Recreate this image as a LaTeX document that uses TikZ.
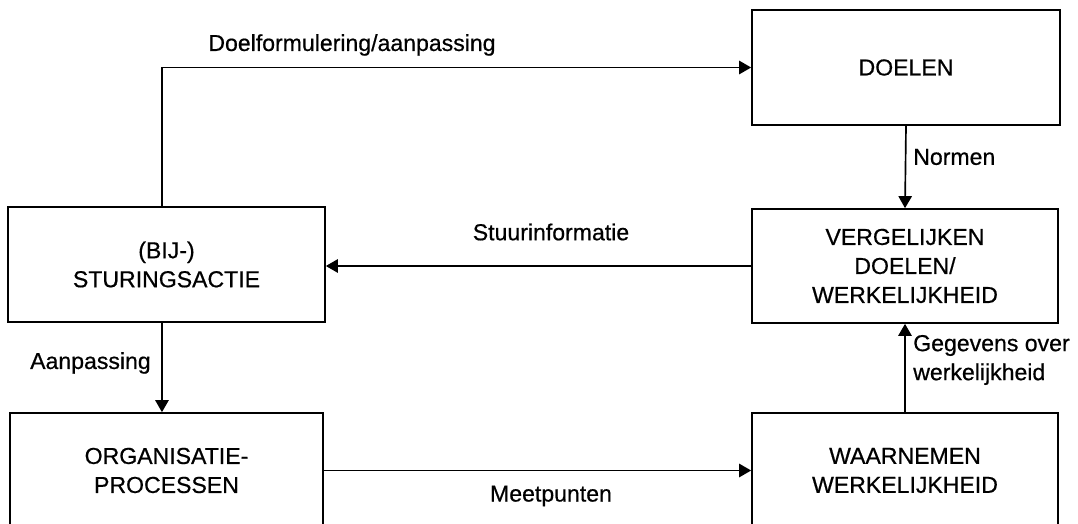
\documentclass[tikz,border=0pt]{standalone}
\usepackage{fontspec}
\setmainfont{Liberation Sans}[FakeBold=0.6]
\usetikzlibrary{arrows.meta}
\begin{document}
\begin{tikzpicture}[x=0.75pt,y=-0.75pt,
  every node/.style={font=\fontsize{17.3}{21.75}\selectfont, text=black},
  box/.style={draw=black, line width=1.25pt, rectangle, align=center, inner sep=0pt},
  arr/.style={draw=black, line width=1.25pt, -{Triangle[length=9pt,width=10pt]}},
  lbl/.style={inner sep=0pt, align=left}]
\useasboundingbox (0,0) rectangle (1078,524);
% boxes
\node[box, minimum width=231pt, minimum height=86.25pt] (doelen) at (906,67.5) {DOELEN};
\node[box, minimum width=229.5pt, minimum height=85.5pt] (verg) at (905,266) {VERGELIJKEN\\DOELEN/\\WERKELIJKHEID};
\node[box, minimum width=229.5pt, minimum height=86.25pt] (waar) at (905,470.5) {WAARNEMEN\\WERKELIJKHEID};
\node[box, minimum width=237.75pt, minimum height=86.25pt] (stur) at (166.5,264.5) {(BIJ-)\\STURINGSACTIE};
\node[box, minimum width=234.75pt, minimum height=86.25pt] (org) at (166.5,470.5) {ORGANISATIE-\\PROCESSEN};
% connectors
\coordinate (sturtop) at ([xshift=-3.4pt]stur.north);
\draw[arr] (sturtop) |- (doelen.west);
\draw[arr] (doelen.south) -- (verg.north);
\draw[arr] (verg.west) -- (verg.west -| stur.east);
\coordinate (sturbot) at ([xshift=-3.4pt]stur.south);
\draw[arr] (sturbot) -- (sturbot |- org.north);
\draw[arr] (org.east) -- (org.east -| waar.west);
\draw[arr] (waar.north) -- (waar.north |- verg.south);
% labels
\node[lbl] (l1) at (352,45) {Doelformulering/aanpassing};
\node[lbl, anchor=west] (l2) at (913,157) {Normen};
\node[lbl] (l3) at (551,232) {Stuurinformatie};
\node[lbl, anchor=east] (l4) at (151,363) {Aanpassing};
\node[lbl] (l5) at (551,496) {Meetpunten};
\node[lbl, anchor=west] (l6) at (913,360) {Gegevens over\\werkelijkheid};
\end{tikzpicture}
\end{document}
